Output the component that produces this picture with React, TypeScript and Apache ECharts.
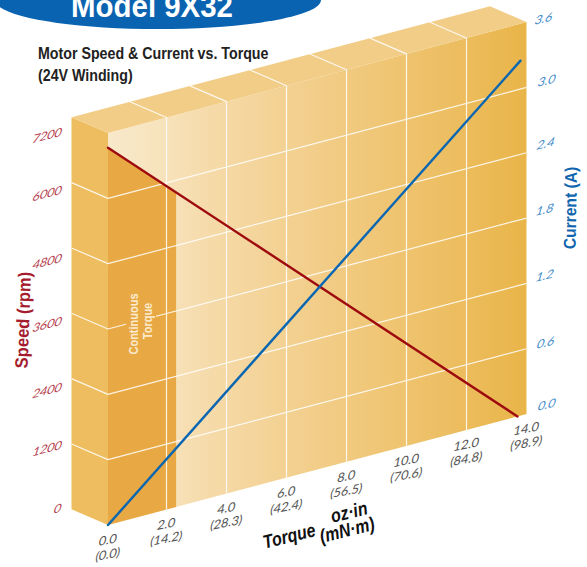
import React, { useEffect, useRef } from "react";
import * as echarts from "echarts";

// ---- data ----
const torqueTicks = [0, 2, 4, 6, 8, 10, 12, 14];
const torqueMetric = ["(0.0)", "(14.2)", "(28.3)", "(42.4)", "(56.5)", "(70.6)", "(84.8)", "(98.9)"];
const torqueGrid = [2, 4, 6, 8, 10, 12];
const speedTicks = [0, 1200, 2400, 3600, 4800, 6000, 7200];
const currentTicks = ["0.0", "0.6", "1.2", "1.8", "2.4", "3.0", "3.6"];
const speedGrid = [1200, 2400, 3600, 4800, 6000];
const speedTorque = [0.05, 13.7];
const speedValues = [6930, 0];
const currentTorque = [0.05, 13.8];
const currentValues = [0, 3.26];
const continuousTorque = 2.32;

// ---- layout ----
const W = 587, H = 567;
const GRID = { left: 106.5, top: 133, width: 420, height: 392 };
const ORIGIN_T = 0.05;
const SKEW = 0.2651;
const DEPTH: [number, number] = [-36.5, -15.7];
const ORIGIN_PX = 108;
const speedLabelY = [508, 448, 390, 324, 261, 193, 135];
const speedLabelX = [58, 47.6, 47.6, 47.6, 47.6, 47.6, 47.6];
const currentLabelY = [404, 342, 275, 209, 143, 80, 18];
const currentLabelX = [547, 546, 545, 545, 546, 547, 544];
const SANS = '"Liberation Sans", Arial, sans-serif';
const TICK_FAMILY = 'Lato, "Open Sans", sans-serif';

const rad = (d: number) => (d * Math.PI) / 180;

function proj(api: any, t: number, v: number, depth = false): number[] {
  const p = api.coord([t, v]);
  const x = p[0];
  const y = p[1] - SKEW * (x - ORIGIN_PX);
  return depth ? [x + DEPTH[0], y + DEPTH[1]] : [x, y];
}

const once = (draw: (api: any) => any) => (params: any, api: any) => draw(api);

const wallSeries = {
  type: "custom",
  xAxisIndex: 0,
  yAxisIndex: 0,
  silent: true,
  z: 1,
  data: [[0, 0]],
  renderItem: once((api) => {
    const TMAX = 14;
    const YMAX = 7200;
    const shapeOf = (pts: number[][], fill: any) => ({
      type: "polygon",
      shape: { points: pts },
      style: { fill },
    });
    const redAt = (t: number) =>
      speedValues[0] +
      ((t - speedTorque[0]) / (speedTorque[1] - speedTorque[0])) * (speedValues[1] - speedValues[0]);
    return {
      type: "group",
      children: [
        shapeOf(
          [proj(api, ORIGIN_T, 0), proj(api, TMAX, 0), proj(api, TMAX, YMAX), proj(api, ORIGIN_T, YMAX)],
          new echarts.graphic.LinearGradient(0, 0, 1, 0, [
            { offset: 0, color: "#F8E9CB" },
            { offset: 0.14, color: "#F7E2BA" },
            { offset: 0.28, color: "#F5D8A4" },
            { offset: 0.57, color: "#F1CA80" },
            { offset: 0.86, color: "#ECBC5C" },
            { offset: 1, color: "#E9B549" },
          ])
        ),
        shapeOf(
          [proj(api, ORIGIN_T, 0), proj(api, ORIGIN_T, YMAX), proj(api, ORIGIN_T, YMAX, true), proj(api, ORIGIN_T, 0, true)],
          "#EEBD5F"
        ),
        shapeOf(
          [proj(api, ORIGIN_T, YMAX), proj(api, TMAX, YMAX), proj(api, TMAX, YMAX, true), proj(api, ORIGIN_T, YMAX, true)],
          "#F2CD87"
        ),
        shapeOf(
          [
            proj(api, ORIGIN_T, 0),
            proj(api, continuousTorque, 0),
            proj(api, continuousTorque, redAt(continuousTorque)),
            proj(api, ORIGIN_T, redAt(ORIGIN_T)),
          ],
          "#E8A944"
        ),
      ],
    };
  }),
};

const line = (a: number[], b: number[], opacity = 0.85, lineWidth = 1.2) => ({
  type: "line",
  shape: { x1: a[0], y1: a[1], x2: b[0], y2: b[1] },
  style: { stroke: "#FFFFFF", lineWidth, opacity },
});

const gridSeries = {
  type: "custom",
  xAxisIndex: 0,
  yAxisIndex: 0,
  silent: true,
  z: 2,
  data: [[0, 0]],
  renderItem: once((api) => {
    const children: any[] = [];
    speedGrid.forEach((v) => {
      children.push(line(proj(api, ORIGIN_T, v), proj(api, 14, v)));
      children.push(line(proj(api, ORIGIN_T, v, true), proj(api, ORIGIN_T, v)));
    });
    torqueGrid.forEach((t) => {
      children.push(line(proj(api, t, 0), proj(api, t, 7200)));
      children.push(line(proj(api, t, 7200), proj(api, t, 7200, true)));
    });
    children.push({
      type: "rect",
      shape: { x: 126, y: 314, width: 30, height: 22 },
      style: { fill: "#E8A944" },
    });
    return { type: "group", children };
  }),
};

const curve = (ts: number[], vs: number[], stroke: string, yAxisIndex: number) => ({
  type: "custom",
  xAxisIndex: 0,
  yAxisIndex,
  silent: true,
  z: 3,
  data: ts.map((t, i) => [t, vs[i]]),
  renderItem: (params: any, api: any) => {
    if (params.dataIndex !== 0) return null;
    return {
      type: "polyline",
      shape: { points: ts.map((t, i) => proj(api, t, vs[i])) },
      style: { stroke, lineWidth: 2.4, fill: "none", lineCap: "round" },
    };
  },
});

type TextOpts = {
  size: number;
  fill: string;
  rot?: number;
  bold?: boolean;
  italic?: boolean;
  family?: string;
  condense?: number;
  align?: string;
};

const textEl = (text: string, x: number, y: number, o: TextOpts) => ({
  type: "text",
  x,
  y,
  z: 10,
  rotation: rad(o.rot ?? 0),
  scaleX: o.condense ?? 1,
  style: {
    text,
    x: 0,
    y: 0,
    fontFamily: o.family ?? SANS,
    fontSize: o.size,
    fontWeight: o.bold ? "bold" : "normal",
    fontStyle: o.italic ? "italic" : "normal",
    fill: o.fill,
    textAlign: o.align ?? "center",
    textVerticalAlign: "middle",
  },
});

// A tick label whose baseline climbs by `climb` degrees and whose stems lean right by `lean`
// degrees: the sheared look of the artwork, built as rotate * scale * rotate (an SVD).
const shearedText = (text: string, x: number, y: number, fill: string, climb: number, lean: number) => {
  const a = Math.cos(rad(climb));
  const c = -Math.sin(rad(climb));
  const b = -Math.sin(rad(lean));
  const d = Math.cos(rad(lean));
  const E = (a + d) / 2;
  const F = (a - d) / 2;
  const G = (c + b) / 2;
  const K = (c - b) / 2;
  const Q = Math.hypot(E, K);
  const R = Math.hypot(F, G);
  const a1 = Math.atan2(G, F);
  const a2 = Math.atan2(K, E);
  const theta = (a2 - a1) / 2;
  const phi = (a2 + a1) / 2;
  const child: any = textEl(text, 0, 0, { size: 13, fill, family: TICK_FAMILY });
  child.rotation = -theta;
  return {
    type: "group",
    x,
    y,
    rotation: -phi,
    scaleX: Q + R,
    scaleY: Q - R,
    children: [child],
  };
};

const torqueLabelSeries = {
  type: "custom",
  xAxisIndex: 0,
  yAxisIndex: 0,
  silent: true,
  z: 4,
  data: torqueTicks.map((t) => [t, 0]),
  renderItem: (params: any, api: any) => {
    const t = api.value(0);
    const p = proj(api, t, 0);
    const px = Math.max(p[0], ORIGIN_PX);
    return {
      type: "group",
      children: [
        shearedText(t.toFixed(1), px, p[1] + 14, "#555555", 11, 12),
        shearedText(torqueMetric[params.dataIndex], px, p[1] + 28.5, "#555555", 11, 12),
      ],
    };
  },
};

const titleOpts: TextOpts = { size: 16, bold: true, fill: "#222222", condense: 0.89, align: "left" };
const axisOpts: TextOpts = { size: 19, bold: true, italic: true, fill: "#111111", rot: 14, condense: 0.84 };
const noteOpts: TextOpts = { size: 12.5, bold: true, fill: "#FBEBCF", rot: 90, condense: 0.88 };

const option: any = {
  animation: false,
  backgroundColor: "#FFFFFF",
  grid: { left: GRID.left, top: GRID.top, width: GRID.width, height: GRID.height, containLabel: false },
  xAxis: { type: "value", min: 0, max: 14, interval: 2, show: false },
  yAxis: [
    { type: "value", min: 0, max: 7200, interval: 1200, show: false },
    { type: "value", min: 0, max: 3.6, interval: 0.6, show: false, position: "right" },
  ],
  series: [
    wallSeries,
    gridSeries,
    curve(speedTorque, speedValues, "#9E0B0F", 0),
    curve(currentTorque, currentValues, "#0B66B2", 1),
    torqueLabelSeries,
  ],
  graphic: [
    {
      type: "ellipse",
      z: 5,
      shape: { cx: 158, cy: 0, rx: 163, ry: 29 },
      style: { fill: "#0A63B0" },
    },
    textEl("Model 9X32", 152, 6, { size: 32, bold: true, fill: "#FFFFFF", condense: 0.92 }),
    textEl("Motor Speed & Current vs. Torque", 38, 53, titleOpts),
    textEl("(24V Winding)", 38, 75, titleOpts),
    ...speedTicks.map((v, i) => shearedText(String(v), speedLabelX[i], speedLabelY[i], "#B5404E", 14, 18)),
    ...currentTicks.map((v, i) => shearedText(v, currentLabelX[i], currentLabelY[i], "#3F8CC9", 14, 18)),
    textEl("Speed (rpm)", 23, 320, { size: 18, bold: true, fill: "#A51C2E", rot: 88, condense: 0.92 }),
    textEl("Current (A)", 570, 208, { size: 17, bold: true, fill: "#0F65AE", rot: 89, condense: 0.92 }),
    textEl("Continuous", 133, 324, noteOpts),
    textEl("Torque", 147, 321, noteOpts),
    textEl("Torque", 289, 536, axisOpts),
    textEl("oz·in", 349, 512, axisOpts),
    textEl("(mN·m)", 347, 530, axisOpts),
  ],
};

export default function App() {
  const ref = useRef<HTMLDivElement>(null);
  useEffect(() => {
    const chart = echarts.init(ref.current!, null, { renderer: "svg" });
    chart.setOption(option);
    return () => chart.dispose();
  }, []);
  return <div ref={ref} style={{ position: "absolute", left: 0, top: 0, width: W, height: H }} />;
}
